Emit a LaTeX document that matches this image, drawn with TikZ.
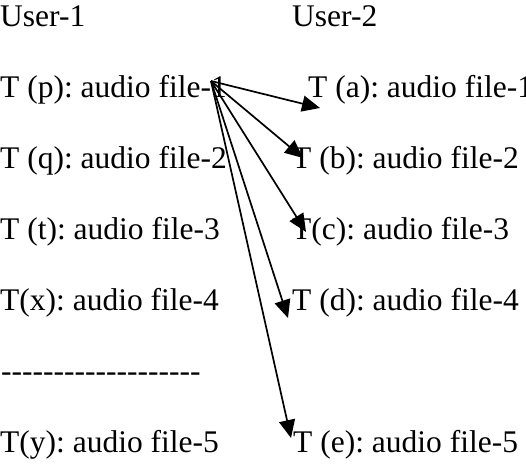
\documentclass[tikz,border=0pt]{standalone}
\usepackage{fontspec}
\setmainfont{Liberation Serif}
\usetikzlibrary{arrows.meta}
\newcommand\hyph{\mbox{-}}
\frenchspacing
\begin{document}
\begin{tikzpicture}[x=1pt,y=-1pt,
  lbl/.style={anchor=base west,inner sep=0pt,font=\fontsize{31.5}{38}\selectfont},
  link/.style={line width=1.7pt,-{Triangle[length=18pt,width=16pt]}}]
\useasboundingbox (0,0) rectangle (526,465);
% column headings
\node[lbl] (u1) at (0,27) {User-1};
\node[lbl] (u2) at (292,27) {User-2};
% files of the first user
\node[lbl] (p) at (0,98) {T (p): audio file-1};
\node[lbl] (q) at (0,168) {T (q): audio file-2};
\node[lbl] (t) at (0,239) {T (t): audio file-3};
\node[lbl] (x) at (0,310) {T(x): audio file-4};
\node[lbl] (gap) at (1,381) {\hyph\hyph\hyph\hyph\hyph\hyph\hyph\hyph\hyph\hyph\hyph\hyph\hyph\hyph\hyph\hyph\hyph\hyph\hyph};
\node[lbl] (y) at (0,452) {T(y): audio file-5};
% files of the second user
\node[lbl] (a) at (308,98) {T (a): audio file-1};
\node[lbl] (b) at (292,168) {T (b): audio file-2};
\node[lbl] (c) at (292,239) {T(c): audio file-3};
\node[lbl] (d) at (292,310) {T (d): audio file-4};
\node[lbl] (e) at (293,452) {T (e): audio file-5};
% arrow ends
\coordinate (src) at (211,81);
\coordinate (ta) at (320,108);
\coordinate (tb) at (303,158);
\coordinate (tc) at (306,232);
\coordinate (td) at (288,318);
\coordinate (te) at (291,438);
\draw[link] (src) -- (ta);
\draw[link] (src) -- (tb);
\draw[link] (src) -- (tc);
\draw[link] (src) -- (td);
\draw[link] (src) -- (te);
\end{tikzpicture}
\end{document}
